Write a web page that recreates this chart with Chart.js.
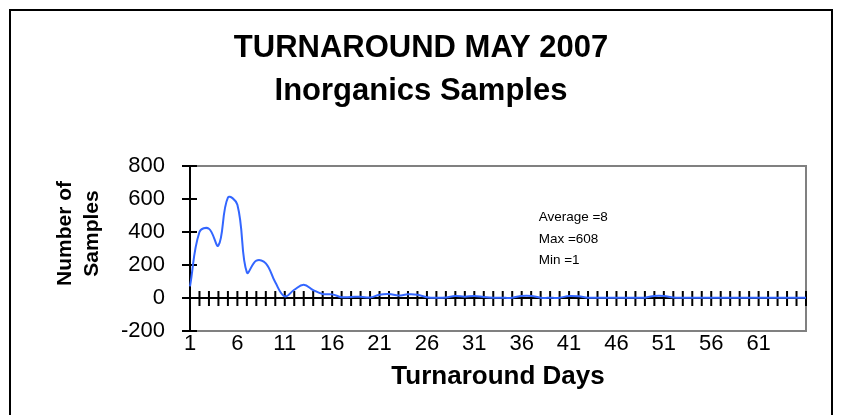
<!DOCTYPE html>
<html>
<head>
<meta charset="utf-8">
<script src="https://cdn.jsdelivr.net/npm/chart.js@4/dist/chart.umd.min.js"></script>
<style>
  html, body { margin: 0; padding: 0; background: #fff; }
  canvas { display: block; }
</style>
</head>
<body>
<canvas id="chart" width="842" height="415"></canvas>
<script>
// Turnaround May 2007 - inorganics samples per turnaround day
const days = ['1','2','3','4','5','6','7','8','9','10','11','12','13','14','15','16','17','18','19','20',
  '21','22','23','24','25','26','27','28','29','30','31','32','33','34','35','36','37','38','39','40',
  '41','42','43','44','45','46','47','48','49','50','51','52','53','54','55','56','57','58','59','60',
  '61','62','63','64','65','66'];
const samples = [70, 400, 420, 318, 608, 565, 155, 226, 210, 95, 10, 50, 80, 48, 24, 22, 5, 6, 8, 3,
  20, 24, 15, 22, 20, 5, 1, 3, 12, 8, 12, 6, 2, 1, 2, 12, 12, 2, 1, 2,
  12, 10, 2, 1, 1, 1, 1, 1, 2, 12, 12, 3, 1, 1, 1, 1, 1, 1, 1, 1,
  1, 1, 1, 1, 1, 1];
const shownDays = ['1','6','11','16','21','26','31','36','41','46','51','56','61'];
const yTicks = { min: -200, max: 800, step: 200 };
const titleLines = ['TURNAROUND MAY 2007', 'Inorganics Samples'];
const yTitleLines = ['Number of', 'Samples'];
const statsLines = ['Average =8', 'Max =608', 'Min =1'];

const FONT = '"Liberation Sans", Arial, Helvetica, sans-serif';

const frame = {
  id: 'frame',
  beforeDraw(chart) {
    const ctx = chart.ctx;
    ctx.save();
    ctx.fillStyle = '#fff';
    ctx.fillRect(0, 0, chart.width, chart.height);
    ctx.strokeStyle = '#000';
    ctx.lineWidth = 2;
    ctx.strokeRect(10, 10, 822, 430);

    // chart title
    ctx.fillStyle = '#000';
    ctx.textAlign = 'center';
    ctx.textBaseline = 'middle';
    ctx.font = 'bold 31px ' + FONT;
    titleLines.forEach((t, i) => ctx.fillText(t, 421, 48 + i * 43));

    // value axis title, two rotated lines
    const a = chart.chartArea;
    ctx.font = 'bold 21px ' + FONT;
    ctx.translate(65, (a.top + a.bottom) / 2 - 15);
    ctx.rotate(-Math.PI / 2);
    yTitleLines.forEach((t, i) => ctx.fillText(t, 0, i * 27));
    ctx.restore();
  },
  beforeDatasetsDraw(chart) {
    const { ctx, chartArea: a, scales: { x, y } } = chart;
    ctx.save();
    // plot box
    ctx.strokeStyle = '#808080';
    ctx.lineWidth = 2;
    ctx.strokeRect(a.left, a.top, a.right - a.left, a.bottom - a.top);
    // axes + crossing tick marks
    ctx.strokeStyle = '#000';
    ctx.beginPath();
    ctx.moveTo(a.left, a.top);
    ctx.lineTo(a.left, a.bottom);
    y.ticks.forEach(t => {
      const py = y.getPixelForValue(t.value);
      ctx.moveTo(a.left - 8, py);
      ctx.lineTo(a.left + 7, py);
    });
    const y0 = y.getPixelForValue(0);
    ctx.moveTo(a.left, y0);
    ctx.lineTo(a.right, y0);
    days.forEach((d, i) => {
      const px = x.getPixelForValue(i);
      ctx.moveTo(px, y0 - 7);
      ctx.lineTo(px, y0 + 8);
    });
    ctx.stroke();
    // stats text
    ctx.fillStyle = '#000';
    ctx.font = '13.5px ' + FONT;
    ctx.textBaseline = 'middle';
    ctx.textAlign = 'left';
    const tx = a.left + (a.right - a.left) * 0.566;
    const ty = a.top + (a.bottom - a.top) * 0.31;
    statsLines.forEach((s, i) => ctx.fillText(s, tx, ty + i * 21.7));
    ctx.restore();
  }
};

new Chart(document.getElementById('chart'), {
  type: 'line',
  data: {
    labels: days,
    datasets: [{
      data: samples,
      borderColor: '#3366ff',
      borderWidth: 2,
      pointRadius: 0,
      tension: 0.4,
      fill: false
    }]
  },
  options: {
    responsive: false,
    animation: false,
    layout: { padding: { top: 166, right: 36, bottom: 0, left: 0 } },
    plugins: {
      legend: { display: false },
      tooltip: { enabled: false },
      title: { display: false }
    },
    scales: {
      x: {
        type: 'category',
        offset: false,
        grid: { display: false, drawTicks: false },
        border: { display: false },
        ticks: {
          autoSkip: false,
          maxRotation: 0,
          minRotation: 0,
          padding: 0,
          color: '#000',
          font: { family: FONT, size: 22 },
          callback: (v, i) => shownDays.includes(days[i]) ? days[i] : ''
        },
        title: {
          display: true,
          text: 'Turnaround Days',
          color: '#000',
          font: { family: FONT, size: 26, weight: 'bold' },
          padding: { top: 0, bottom: 23 }
        },
        afterFit: s => { s.height = 84; }
      },
      y: {
        min: yTicks.min,
        max: yTicks.max,
        grid: { display: false, drawTicks: false },
        border: { display: false },
        ticks: {
          stepSize: yTicks.step,
          padding: 25,
          color: '#000',
          font: { family: FONT, size: 22 },
          callback: v => String(v)
        },
        afterFit: s => { s.width = 190; }
      }
    }
  },
  plugins: [frame]
});
</script>
</body>
</html>
